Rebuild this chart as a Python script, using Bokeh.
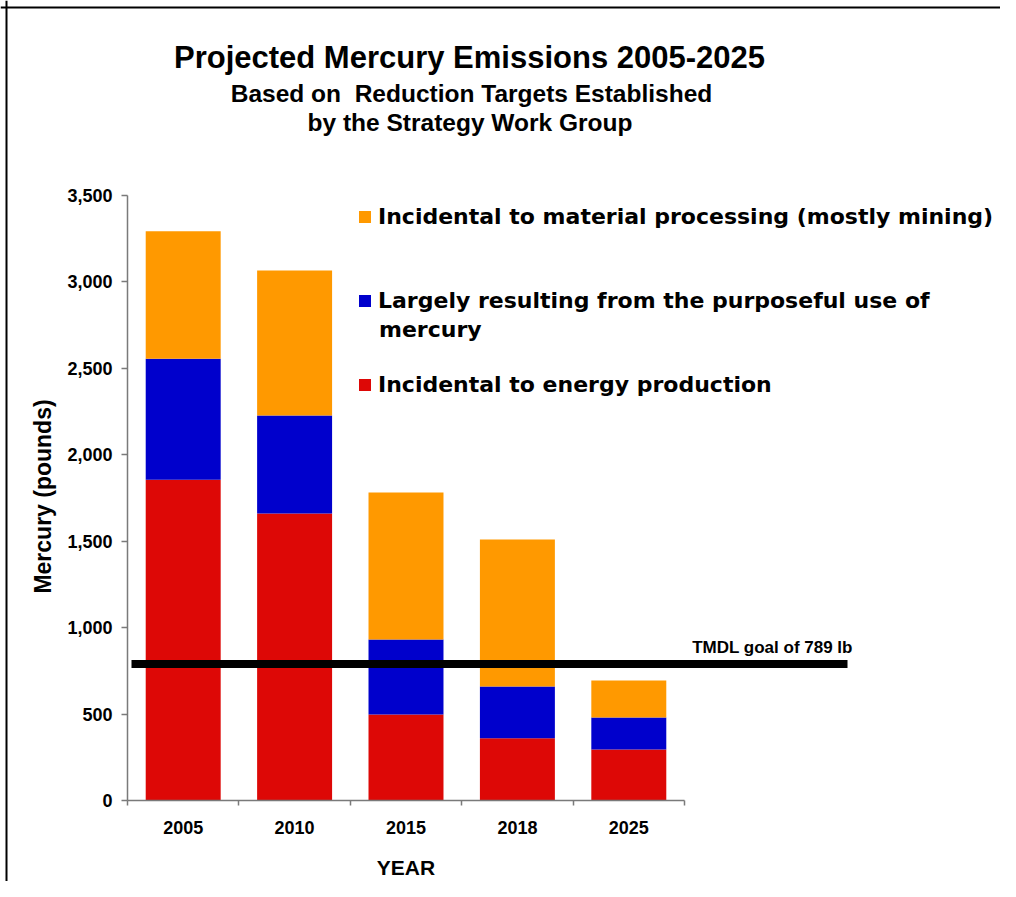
import math
from bokeh.plotting import figure
from bokeh.models import (Range1d, FixedTicker, NumeralTickFormatter, Label,
                          Legend, LegendItem, ColumnDataSource, Span)
from bokeh.embed import file_html
from bokeh.resources import INLINE

# ---------------- data ----------------
years = ["2005", "2010", "2015", "2018", "2025"]
energy = [1855, 1660, 497, 360, 295]          # Incidental to energy production
purposeful = [700, 567, 434, 300, 185]        # Largely resulting from purposeful use
material = [738, 839, 851, 850, 214]          # Incidental to material processing
series_names = ["Incidental to energy production",
                "Largely resulting from the purposeful use of mercury",
                "Incidental to material processing (mostly mining)"]
colors = ["#DD0806", "#0000CC", "#FF9900"]
y_ticks = [0, 500, 1000, 1500, 2000, 2500, 3000, 3500]
y_max = 3500
tmdl_goal = 789
tmdl_text = "TMDL goal of 789 lb"
title_text = "Projected Mercury Emissions 2005-2025"
subtitle_lines = ["Based on \u00a0Reduction Targets Established", "by the Strategy Work Group"]
x_title = "YEAR"
y_title = "Mercury (pounds)"

# ---------------- layout (pixels) ----------------
W, H = 1000, 881
CX0, CY0 = 0, 0            # picture position of the canvas
AX0_X, AX0_Y = 127, 800    # picture position of the plot origin
PX_X = 111.4               # px per category
PX_Y = 605 / y_max         # px per pound
BAR_W = 0.673


def cx(px):
    return px - CX0


def cy(py):
    return CY0 + H - py


x_start = -0.5 - (AX0_X - CX0) / PX_X
x_end = -0.5 + (CX0 + W - AX0_X) / PX_X
y_start = -(CY0 + H - AX0_Y) / PX_Y
y_end = (AX0_Y - CY0) / PX_Y

AF = "Liberation Sans"
LF = "DejaVu Sans"

p = figure(width=W, height=H, output_backend="svg", toolbar_location=None, title=None,
           x_range=Range1d(x_start, x_end), y_range=Range1d(y_start, y_end),
           min_border=0)
p.outline_line_color = None
p.xgrid.visible = False
p.ygrid.visible = False
p.background_fill_color = "white"
p.border_fill_color = "white"

# chart border (top and left edges)
p.add_layout(Span(location=-0.5 - (AX0_X - 6) / PX_X, dimension="height",
                  line_color="black", line_width=2))
p.add_layout(Span(location=(AX0_Y - 7) / PX_Y, dimension="width",
                  line_color="black", line_width=2))

xs = list(range(len(years)))
source = ColumnDataSource(dict(x=xs, energy=energy, purposeful=purposeful, material=material))
rs = p.vbar_stack(["energy", "purposeful", "material"], x="x", width=BAR_W,
                  fill_color=colors, line_color=None, source=source)

# TMDL goal line
x0 = -0.5 + (131 - AX0_X) / PX_X
x1 = -0.5 + (847 - AX0_X) / PX_X
p.segment(x0=[x0], y0=[tmdl_goal], x1=[x1], y1=[tmdl_goal], line_color="black", line_width=8)

AXC = "#7a7a7a"
# y axis
ya = p.yaxis[0]
ya.fixed_location = -0.5
ya.bounds = (0, y_max)
ya.ticker = FixedTicker(ticks=y_ticks)
ya.formatter = NumeralTickFormatter(format="0,0")
ya.axis_line_color = AXC
ya.axis_line_width = 1.5
ya.major_tick_line_color = AXC
ya.major_tick_line_width = 1.5
ya.major_tick_out = 6
ya.major_tick_in = 0
ya.minor_tick_line_color = None
ya.major_label_standoff = 9
ya.major_label_text_font = AF
ya.major_label_text_font_style = "bold"
ya.major_label_text_font_size = "18px"
ya.major_label_text_color = "black"

# x axis
xa = p.xaxis[0]
xa.fixed_location = 0
xa.bounds = (-0.5, len(years) - 0.5)
xa.ticker = FixedTicker(ticks=xs, minor_ticks=[i - 0.5 for i in range(len(years) + 1)])
xa.major_label_overrides = {i: y for i, y in enumerate(years)}
xa.axis_line_color = AXC
xa.axis_line_width = 1.5
xa.major_tick_line_color = None
xa.major_tick_out = 5
xa.major_tick_in = 0
xa.minor_tick_line_color = AXC
xa.minor_tick_line_width = 1.5
xa.minor_tick_out = 5
xa.minor_tick_in = 0
xa.major_label_standoff = 15
xa.major_label_text_font = AF
xa.major_label_text_font_style = "bold"
xa.major_label_text_font_size = "18px"
xa.major_label_text_color = "black"

# legend
blue_l1, blue_l2 = series_names[1].rsplit(" ", 1)
legend = Legend(items=[LegendItem(label=series_names[2], renderers=[rs[2]]),
                       LegendItem(label=blue_l1, renderers=[rs[1]]),
                       LegendItem(label=series_names[0], renderers=[rs[0]])],
                location=(cx(357), cy(397)), orientation="vertical",
                padding=0, margin=0, spacing=58, glyph_width=15, glyph_height=15,
                label_standoff=6, label_height=26,
                label_text_font=LF, label_text_font_style="bold",
                label_text_font_size="22px", label_text_color="black",
                border_line_color=None, background_fill_alpha=0)
p.add_layout(legend)
p.add_layout(Label(x=cx(378.5), y=cy(329), x_units="screen", y_units="screen",
                   text=blue_l2, text_font=LF, text_font_style="bold",
                   text_font_size="22px", text_color="black", text_baseline="alphabetic"))


def add_text(txt, px, py, size, align="center", angle=0.0):
    p.add_layout(Label(x=cx(px), y=cy(py), x_units="screen", y_units="screen", text=txt,
                       text_font=AF, text_font_style="bold", text_font_size=size,
                       text_color="black", text_align=align, text_baseline="alphabetic",
                       angle=angle))


add_text(title_text, 469, 56.5, "31px")
add_text(subtitle_lines[0], 471, 92.5, "24.5px")
add_text(subtitle_lines[1], 469.5, 122, "24.5px")
add_text(tmdl_text, 691.7, 646.5, "17px", align="left")
add_text(x_title, 405.5, 867, "21px")
add_text(y_title, 42, 496, "23px", angle=math.pi / 2)

open("out.html", "w").write(file_html(p, INLINE))
